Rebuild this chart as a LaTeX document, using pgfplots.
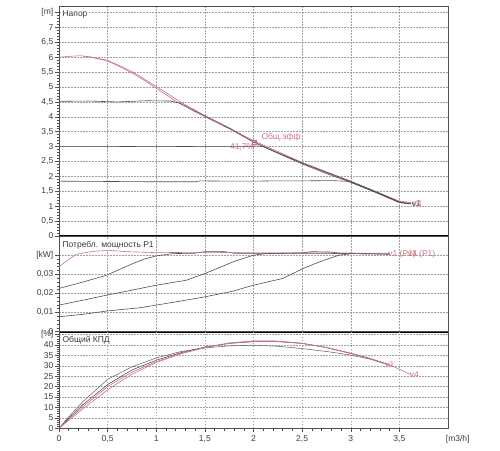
\documentclass[border=0pt]{standalone}
\usepackage{fontspec}
\setmainfont{Liberation Sans}
\usepackage{pgfplots}
\pgfplotsset{compat=1.18}
\definecolor{rc}{RGB}{205,115,128}
\definecolor{bc}{RGB}{80,80,80}
\definecolor{tc}{RGB}{60,60,60}
\definecolor{gc}{RGB}{160,160,160}
\pgfplotsset{panel/.style={
  scale only axis, width=389pt, xmin=0, xmax=4,
  xtick={0,0.5,1,1.5,2,2.5,3,3.5},
  grid=major,
  major grid style={gc, line width=0.5pt, dash pattern=on 1.5pt off 1.5pt},
  tick align=outside, ytick pos=left, xtick pos=bottom,
  axis line style={bc, line width=0.8pt},
  major tick length=4pt, minor tick length=2.5pt,
  every tick/.style={bc, line width=0.5pt},
  tick label style={font=\fontsize{8.5}{10}\selectfont, text=tc},
  yticklabel style={inner sep=1.5pt},
  scaled y ticks=false, scaled x ticks=false,
  clip=false,
  every axis plot/.append style={line width=0.6pt},
}}
\newcommand{\lbl}{\fontsize{8.5}{10}\selectfont}
\begin{document}
\begin{tikzpicture}
\path[use as bounding box] (0,0) rectangle (500pt,450pt);
% ---------------- top: head
\begin{axis}[panel, at={(59pt,214pt)}, anchor=south west, height=230pt,
  ymin=0, ymax=7.72,
  ytick={0,0.5,1,1.5,2,2.5,3,3.5,4,4.5,5,5.5,6,6.5,7,7.5},
  yticklabels={0,{0,5},1,{1,5},2,{2,5},3,{3,5},4,{4,5},5,{5,5},6,{6,5},7,[m]},
  minor y tick num=4, xticklabels={},
  every major x tick/.append style={draw=none}]
\addplot[rc, no markers] coordinates {(0,6.0)(0.1,6.03)(0.22,6.05)(0.35,6.0)(0.5,5.87)(0.63,5.68)(0.75,5.47)(0.88,5.22)(1.0,4.96)(1.12,4.7)(1.24,4.45)(1.37,4.22)(1.5,4.0)(1.75,3.6)(2.0,3.17)(2.25,2.8)(2.5,2.45)(2.75,2.13)(3.0,1.82)(3.25,1.49)(3.47,1.2)(3.55,1.12)(3.62,1.1)};
\addplot[rc, no markers] coordinates {(0.25,6.04)(0.5,5.9)(0.75,5.52)(1.0,5.02)(1.25,4.5)(1.5,4.04)(1.75,3.63)(2.0,3.2)(2.5,2.47)(3.0,1.84)(3.5,1.17)(3.62,1.12)};
\addplot[bc, no markers] coordinates {(0,4.52)(0.3,4.53)(0.6,4.5)(0.9,4.54)(1.15,4.53)(1.25,4.45)(1.37,4.24)(1.5,4.03)(1.75,3.62)(2.0,3.15)(2.25,2.78)(2.5,2.42)(2.75,2.1)(3.0,1.8)(3.25,1.47)(3.5,1.13)(3.62,1.08)};
\addplot[bc, no markers] coordinates {(0,3.0)(0.5,3.0)(1.0,3.01)(1.5,3.0)(1.9,3.0)(2.05,3.02)(2.1,3.0)(2.25,2.79)(2.5,2.45)(2.75,2.14)(3.0,1.83)(3.25,1.5)(3.5,1.14)(3.62,1.08)};
\addplot[bc, no markers] coordinates {(0,1.84)(0.5,1.83)(1.0,1.82)(1.4,1.82)(1.45,1.85)(1.8,1.84)(2.0,1.84)(2.2,1.85)(2.5,1.85)(2.8,1.86)(2.95,1.84)(3.0,1.81)(3.25,1.48)(3.5,1.12)(3.6,1.08)};
\addplot[rc, only marks, mark=square, mark size=2pt] coordinates {(2.01,3.16)};
\node[anchor=west, fill=white, inner sep=1pt, text=tc, font=\lbl] at (rel axis cs:0.006,0.965) {Напор};
\node[anchor=west, inner sep=1pt, text=rc, font=\lbl] at (axis cs:2.07,3.33) {Общ.эфф};
\node[anchor=east, inner sep=1pt, text=rc, font=\lbl] at (axis cs:2.02,3.0) {41,7\%};
\node[anchor=west, inner sep=0.5pt, text=bc, font=\lbl] at (axis cs:3.62,1.1) {v1};
\node[anchor=west, inner sep=0.5pt, text=rc, font=\lbl] at (axis cs:3.63,1.1) {v4};
\draw[black, line width=1.6pt] (rel axis cs:0,0) -- (rel axis cs:1,0);
\end{axis}
% ---------------- middle: power
\begin{axis}[panel, at={(59pt,118.3pt)}, anchor=south west, height=95.7pt,
  ymin=0, ymax=0.05,
  ytick={0,0.01,0.02,0.03,0.04},
  yticklabels={0,{0,01},{0,02},{0,03},[kW]},
  minor y tick num=4, xticklabels={},
  every major x tick/.append style={draw=none}]
\addplot[bc, no markers] coordinates {(0,0.0226)(0.25,0.026)(0.49,0.0295)(0.62,0.0325)(0.76,0.0356)(0.88,0.038)(1.0,0.0396)(1.17,0.0408)(1.4,0.041)(1.5,0.0418)(1.7,0.0418)(1.8,0.041)(2.5,0.041)(3.0,0.0408)(3.4,0.0406)};
\addplot[bc, no markers] coordinates {(0,0.0139)(0.25,0.0165)(0.49,0.0191)(0.75,0.0217)(1.0,0.0243)(1.31,0.0269)(1.5,0.0304)(1.65,0.0335)(1.79,0.0365)(2.0,0.040)(2.13,0.0408)(2.5,0.0412)(2.6,0.0418)(2.8,0.0416)(2.9,0.0409)(3.4,0.0406)};
\addplot[bc, no markers] coordinates {(0,0.0078)(0.25,0.0091)(0.49,0.0108)(0.83,0.0125)(1.0,0.0139)(1.25,0.016)(1.5,0.0182)(1.79,0.0212)(2.0,0.0243)(2.3,0.0278)(2.51,0.033)(2.68,0.0365)(2.88,0.040)(3.02,0.0408)(3.4,0.0405)};
\addplot[rc, no markers] coordinates {(0,0.0339)(0.08,0.037)(0.18,0.0405)(0.35,0.042)(0.52,0.0425)(0.7,0.0418)(1.0,0.0413)(1.5,0.0415)(2.0,0.0412)(2.5,0.0412)(3.0,0.0411)(3.4,0.041)};
\node[anchor=west, fill=white, inner sep=1pt, text=tc, font=\lbl] at (rel axis cs:0.006,0.906) {Потребл. мощность P1};
\node[anchor=west, inner sep=0.5pt, text=rc, font=\lbl] at (axis cs:3.38,0.0403) {v1 (P1)};
\node[anchor=west, inner sep=0.5pt, text=rc, font=\lbl] at (axis cs:3.58,0.0403) {v4 (P1)};
\draw[black, line width=1.6pt] (rel axis cs:0,0) -- (rel axis cs:1,0);
\end{axis}
% ---------------- bottom: efficiency
\begin{axis}[panel, at={(59pt,21.7pt)}, anchor=south west, height=96.6pt,
  ymin=0, ymax=46.4,
  ytick={0,5,10,15,20,25,30,35,40,45},
  yticklabels={0,5,10,15,20,25,30,35,40,[\%]},
  minor y tick num=4, minor x tick num=4,
  xticklabels={0,{0,5},1,{1,5},2,{2,5},3,{3,5}}]
\addplot[gc!70!black, no markers] coordinates {(0,0)(0.1,5.5)(0.25,13)(0.5,23.5)(0.75,29.5)(1.0,33.8)(1.25,36.8)(1.5,38.6)(1.75,39.6)(2.0,39.9)(2.25,39.4)(2.5,38.3)(2.75,36.9)(3.0,35.2)(3.2,33.2)(3.4,30.3)};
\addplot[bc, no markers] coordinates {(0,0)(0.1,4.8)(0.25,11.5)(0.5,21)(0.75,28)(1.0,32.7)(1.25,36.3)(1.5,39)(1.75,40.8)(2.0,41.6)(2.25,41.6)(2.5,40.8)(2.75,38.8)(3.0,36)(3.2,33.5)(3.4,30.4)};
\addplot[rc, no markers] coordinates {(0,0)(0.1,4.3)(0.25,10.5)(0.5,20)(0.75,27)(1.0,32)(1.25,36)(1.5,38.8)(1.75,40.8)(2.0,41.8)(2.25,41.8)(2.5,40.8)(2.75,38.8)(3.0,36)(3.2,33.5)(3.4,30.3)};
\addplot[rc, no markers] coordinates {(0,0)(0.1,3.8)(0.25,9.5)(0.5,18.5)(0.75,26)(1.0,31.6)(1.25,35.7)(1.5,38.8)(1.75,41)(2.0,42)(2.25,41.9)(2.5,40.8)(2.75,38.8)(3.0,36)(3.2,33.5)(3.4,30.5)(3.62,25.8)};
\node[anchor=west, fill=white, inner sep=1pt, text=tc, font=\lbl] at (rel axis cs:0.006,0.914) {Общий КПД};
\node[anchor=west, inner sep=0.5pt, text=rc, font=\lbl] at (axis cs:3.35,30.6) {v1};
\node[anchor=west, inner sep=0.5pt, text=rc, font=\lbl] at (axis cs:3.6,25.8) {v4};
\node[anchor=north, text=tc, font=\lbl] at (axis cs:4.1,0) [yshift=-4pt] {[m3/h]};
\end{axis}
\end{tikzpicture}
\end{document}
